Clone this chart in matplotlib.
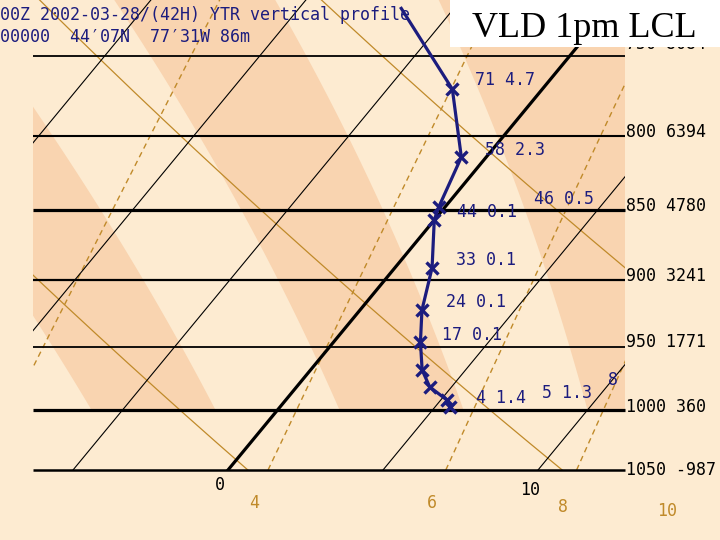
import numpy as np
import matplotlib
matplotlib.use("Agg")
import matplotlib.pyplot as plt
import matplotlib.transforms as mtransforms

# ---------------- data ----------------
isobars = [750, 800, 850, 900, 950, 1000, 1050]
isobar_heights = ["8084", "6394", "4780", "3241", "1771", "360", "-987"]
isotherms = [-15, -10, -5, 0, 5, 10]
isotherm_labels = [0, 10]
dry_adiabats_K = [270, 280, 290, 300]
mixing_ratios = [2, 4, 6, 8]
mixing_label_values = [4, 6, 8, 10]
band_thetaw = [(-6, -2), (2, 6), (10, 18)]

profile_p = [997.6, 991.9, 981.5, 968.0, 946.2, 922.0, 890.8, 856.9, 848.0, 814.2, 770.4, 721.4]
profile_T = [5.5, 5.2, 4.3, 3.6, 2.8, 2.0, 1.2, 0.0, -0.2, -0.8, -2.9, -6.7]

profile_texts = ["71 4.7", "58 2.3", "46 0.5", "44 0.1", "33 0.1",
                 "24 0.1", "17 0.1", "4 1.4", "5 1.3", "8"]
header_line1 = "00Z 2002-03-28/(42H) YTR vertical profile"
header_line2 = "00000  44\u203207N  77\u203231W 86m"
title_box_text = "VLD 1pm LCL"

# ---------------- helpers ----------------
SKEW = 32.74
P_BOT, P_TOP = 1050.0, 716.5


def skew_x(T, p):
    return np.asarray(T) + SKEW * np.log(P_BOT / np.asarray(p))


def dewpoint_from_w(w, p):
    e = w * p / (622.0 + w)
    a = np.log(e / 6.112)
    return 243.5 * a / (17.67 - a)


def moist_adiabat(tw, p):
    Rd, Cp, Lv, eps = 287.04, 1005.7, 2.501e6, 0.622

    def f(pp, T):
        es = 6.112 * np.exp(17.67 * (T - 273.15) / (T - 273.15 + 243.5))
        rs = eps * es / (pp - es)
        return (Rd * T + Lv * rs) / (pp * (Cp + Lv ** 2 * rs * eps / (Rd * T ** 2)))

    T = tw + 273.15
    out = [T]
    for i in range(1, len(p)):
        h = p[i] - p[i - 1]
        p0 = p[i - 1]
        k1 = f(p0, T)
        k2 = f(p0 + h / 2, T + h / 2 * k1)
        k3 = f(p0 + h / 2, T + h / 2 * k2)
        k4 = f(p0 + h, T + h * k3)
        T = T + h / 6 * (k1 + 2 * k2 + 2 * k3 + k4)
        out.append(T)
    return np.array(out) - 273.15


# ---------------- figure ----------------
BG = "#FDEBD1"
BAND = "#F9D4B0"
ORANGE = "#C08A2A"
NAVY = "#1C1C7E"

fig = plt.figure(figsize=(7.2, 5.4), dpi=100, facecolor=BG)
ax = fig.add_axes([33 / 720, 1 - 470 / 540, 592 / 720, 470 / 540])
ax.set_yscale("log")
ax.set_ylim(P_BOT, P_TOP)
ax.set_xlim((33 - 228) / 31, (625 - 228) / 31)
ax.axis("off")

# shaded pseudo-adiabat bands (above 1000 hPa)
pb = np.linspace(1000, 700, 301)
for tw1, tw2 in band_thetaw:
    x1 = skew_x(moist_adiabat(tw1, pb), pb)
    x2 = skew_x(moist_adiabat(tw2, pb), pb)
    ax.fill(np.r_[x1, x2[::-1]], np.r_[pb, pb[::-1]], color=BAND, lw=0, zorder=0)

# isotherms
pl = np.array([P_BOT, 700.0])
for t in isotherms:
    ax.plot(skew_x([t, t], pl), pl, color="black",
            lw=2.3 if t == 0 else 0.8, zorder=3)

# dry adiabats
pd = np.linspace(P_BOT, 700, 200)
for th in dry_adiabats_K:
    T = th * (pd / 1000.0) ** 0.2857 - 273.15
    ax.plot(skew_x(T, pd), pd, color=ORANGE, lw=0.9, zorder=2)

# mixing ratio lines
for w in mixing_ratios:
    Td = dewpoint_from_w(w, pd)
    ax.plot(skew_x(Td, pd), pd, color=ORANGE, lw=1.0, ls=(0, (4, 3)), zorder=2)

# isobars
xl = ax.get_xlim()
isobar_lw = [1.3, 1.5, 2.3, 1.6, 1.3, 2.3, 1.8]
for p, lw in zip(isobars, isobar_lw):
    ax.plot(xl, [p, p], color="black", lw=lw, zorder=4, clip_on=False,
            solid_capstyle="butt")

# profile
prof_x = skew_x(profile_T, profile_p)
ax.plot(prof_x, profile_p, color=NAVY, lw=2.3, zorder=6, clip_on=False)
ax.plot(prof_x[:-1], profile_p[:-1], ls="none", marker="x",
        ms=8, mew=2.4, color=NAVY, zorder=7)

# ---------------- texts ----------------
mono = ["DejaVu Sans Mono", "DejaVu Sans"]
fs = 12


def ft(xp, yp, s, **kw):
    fig.text(xp / 720, 1 - yp / 540, s, va="center", ha="left",
             family=mono, fontsize=fs, **kw)


# pressure / height labels
base = mtransforms.blended_transform_factory(fig.transFigure, ax.transData)
label_dy = [12, 4, 4, 4, 5, 3, 0]
for p, h, dy in zip(isobars, isobar_heights, label_dy):
    tr = mtransforms.offset_copy(base, fig=fig, x=0, y=dy, units="dots")
    ax.text(626 / 720, p, f"{p} {h}", transform=tr, va="center", ha="left",
            family=mono, fontsize=fs, color="black", clip_on=False, zorder=8)

# header
ft(0, 15, header_line1, color=NAVY)
ft(0, 37, header_line2, color=NAVY)

# profile labels
prof_pos = [(475, 80), (485, 150), (534, 199), (457, 212), (456, 260),
            (446, 302), (442, 335), (476, 398), (542, 393), (608, 380)]
for (xp, yp), s in zip(prof_pos, profile_texts):
    ft(xp, yp, s, color=NAVY)

# isotherm labels
trans_b = mtransforms.blended_transform_factory(ax.transData, fig.transFigure)
for t, yp in zip(isotherm_labels, [485, 490]):
    ax.text(skew_x(t, P_BOT) - 0.25, 1 - yp / 540, str(t), transform=trans_b,
            va="center", ha="center", family=mono, fontsize=fs, color="black",
            clip_on=False)

# mixing ratio labels
for w, yp in zip(mixing_label_values, [503, 503, 507, 511]):
    ax.text(skew_x(dewpoint_from_w(w, P_BOT), P_BOT) - 0.45, 1 - yp / 540, str(w),
            transform=trans_b, va="center", ha="center", family=mono, fontsize=fs,
            color=ORANGE, clip_on=False)

# white title box
fig.patches.append(plt.Rectangle((450 / 720, 1 - 47 / 540), 270 / 720, 47 / 540,
                                 transform=fig.transFigure, facecolor="white",
                                 edgecolor="none", zorder=20))
fig.text(584 / 720, 1 - 37 / 540, title_box_text, ha="center", va="baseline",
         family="Liberation Serif", fontsize=26, color="black", zorder=21)

fig.savefig("out.png", dpi=100, facecolor=BG)
